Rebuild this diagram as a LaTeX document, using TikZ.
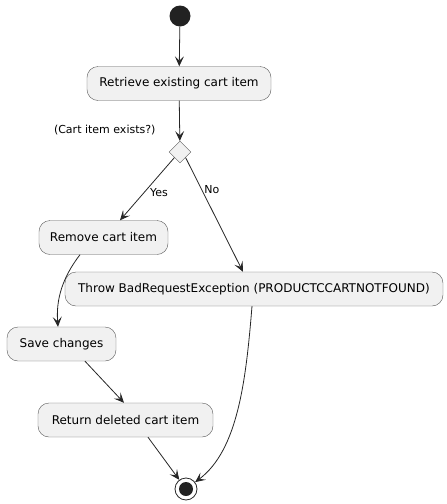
\documentclass[tikz,border=0pt]{standalone}
\usepackage{fontspec}
\setmainfont{DejaVu Sans}
\usepackage{tikz}
\usetikzlibrary{arrows.meta}
\usetikzlibrary{shapes.geometric}
\definecolor{actfill}{HTML}{F1F1F1}
\definecolor{actline}{HTML}{5A5A5A}
\definecolor{dotfill}{HTML}{222222}
\tikzstyle{action} = [rectangle, rounded corners=11pt, draw=actline, fill=actfill,
    minimum height=34pt, inner xsep=9pt, font=\fontsize{12}{14}\selectfont]
\tikzstyle{choice} = [diamond, draw=actline, fill=actfill, minimum size=22pt, inner sep=0pt]
\tikzstyle{lbl} = [font=\fontsize{11}{13}\selectfont]
\tikzset{>={Stealth[length=10pt,width=9pt,inset=4.5pt]}}
\tikzset{flow/.style={->, draw=black!85, line width=0.8pt}}

\begin{document}
\begin{tikzpicture}[x=1pt,y=-1pt]
\useasboundingbox (0,0) rectangle (447,504);
\begin{scope}
    %start and end
    \node[circle, fill=dotfill, minimum size=21pt, inner sep=0pt] (start) at (180,16) {};
    \node[circle, draw=black!85, line width=0.8pt, minimum size=22pt, inner sep=0pt] (stop) at (186,489) {};
    \node[circle, fill=dotfill, minimum size=14pt, inner sep=0pt] at (stop) {};
    %actions
    \node[action, minimum width=184pt] (retrieve) at (179,83.5) {Retrieve existing cart item};
    \node[choice] (exists) at (180,152) {};
    \node[action, minimum width=129pt] (remove) at (103.5,237.5) {Remove cart item};
    \node[action, minimum width=378pt] (throw) at (254,289) {Throw BadRequestException (PRODUCTCCARTNOTFOUND)};
    \node[action, minimum width=109pt] (save) at (61.5,344) {Save changes};
    \node[action, minimum width=175pt] (return) at (125.5,420) {Return deleted cart item};
    %labels
    \node[lbl, anchor=east] (question) at (159,130) {(Cart item exists?)};
    %flows
    \draw[flow] (start) -- (retrieve);
    \draw[flow] (retrieve) -- (exists);
    \draw[flow] (exists.south west) -- node[lbl, right, pos=0.55, xshift=2pt] {Yes} (remove.north -| 120,0);
    \draw[flow] (exists.south east) -- node[lbl, right, pos=0.28, xshift=-1pt] {No} (throw.north -| 243,0);
    \draw[flow] (remove.south -| 80,0) .. controls (62,278) and (56,300) .. (save.north -| 58,0);
    \draw[flow] (save.south -| 85,0) -- (return.north -| 124,0);
    \draw[flow] (return.south -| 148,0) -- (stop);
    \draw[flow] (throw.south -| 252,0) .. controls (246,380) and (238,450) .. (stop);
\end{scope}
\end{tikzpicture}
\end{document}
